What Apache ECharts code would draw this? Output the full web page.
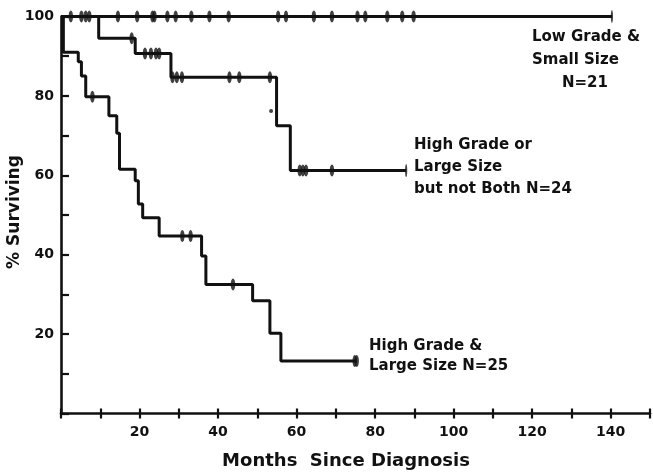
<!DOCTYPE html>
<html><head><meta charset="utf-8">
<script src="https://cdn.jsdelivr.net/npm/echarts@6/dist/echarts.min.js"></script>
<style>html,body{margin:0;padding:0;background:#fff}#c{width:653px;height:472px}</style>
</head><body><div id="c"></div>
<script>
// ---- data ----
const xTickLabels = [20, 40, 60, 80, 100, 120, 140];
const yTickLabels = [20, 40, 60, 80, 100];

// Low Grade & Small Size (N=21): [month, % surviving]
const lowSteps = [[0, 100], [140.3, 100]];
const lowCensored = [2.5, 5.2, 6.3, 7.2, 14.5, 19.4, 23.3, 23.8, 27.1, 29.2, 33.2, 37.8, 42.7, 55.3, 57.3, 64.4, 69, 75.5, 77.5, 83.1, 86.9, 89.8];
const lowEnd = [140.3];

// High Grade or Large Size but not Both (N=24)
const midSteps = [[0, 100], [9.6, 94.5], [18.9, 90.7], [28, 84.7], [54.9, 72.5], [58.4, 61.2], [87.9, 61.2]];
const midCensored = [18.0, 21.4, 22.9, 24.2, 25.0, 28.4, 29.5, 30.8, 42.9, 45.4, 53.2, 60.8, 61.6, 62.4, 69];
const midEnd = [87.9];

// High Grade & Large Size (N=25)
const highSteps = [[0, 100], [0.6, 91], [4.4, 88.6], [5.2, 85], [6.3, 79.8], [12.2, 75], [14.2, 70.6], [14.9, 61.5], [18.9, 58.6], [19.7, 52.8], [20.8, 49.3], [25, 44.7], [35.8, 39.7], [36.9, 32.5], [48.8, 28.4], [53.2, 20.2], [56, 13.2], [75.3, 13.2]];
const highCensored = [8.0, 30.9, 33.0, 43.8, 74.8];
const highEnd = [75.3];

// stray dot printed in the original figure
const strayDots = [[53.5, 76.2]];

// ---- helpers ----
function survAt(steps, t) {
  let s = steps[0][1];
  for (const p of steps) { if (p[0] <= t) s = p[1]; }
  return s;
}
function marks(steps, times) { return times.map(t => [t, survAt(steps, t)]); }

const INK = '#111';
const FONT = 'DejaVu Sans';

function curve(steps) {
  return { type: 'line', step: 'end', data: steps, symbol: 'none', xAxisIndex: 0, yAxisIndex: 0,
    lineStyle: { color: INK, width: 3 }, silent: true, z: 3 };
}
function cens(data, size) {
  return { type: 'scatter', data: data, symbol: 'circle', symbolSize: size || [4.5, 12], xAxisIndex: 0, yAxisIndex: 0,
    itemStyle: { color: INK }, silent: true, z: 4 };
}

const chart = echarts.init(document.getElementById('c'), null, { renderer: 'canvas' });
chart.setOption({
  backgroundColor: '#fff',
  animation: false,
  grid: { left: 61, right: -2, top: 16.5, bottom: 58.5, containLabel: false },
  xAxis: [
    { type: 'value', min: 0, max: 150, interval: 10,
      axisLine: { show: true, lineStyle: { color: INK, width: 2.6 } },
      axisTick: { show: true, inside: false, length: 5, lineStyle: { color: INK, width: 2.2 } },
      axisLabel: { margin: 12, color: INK, fontFamily: FONT, fontWeight: 'bold', fontSize: 14,
        formatter: v => xTickLabels.includes(v) ? String(v) : '' },
      splitLine: { show: false } },
    { type: 'value', min: 0, max: 150, interval: 10, position: 'bottom',
      axisLine: { show: false },
      axisTick: { show: true, inside: true, length: 5, lineStyle: { color: INK, width: 2.2 } },
      axisLabel: { show: false }, splitLine: { show: false } }
  ],
  yAxis: [
    { type: 'value', min: 0, max: 100, interval: 10,
      axisLine: { show: true, lineStyle: { color: INK, width: 2.6 } },
      axisTick: { show: true, inside: true, length: 8, lineStyle: { color: INK, width: 2.2 } },
      axisLabel: { margin: 7, color: INK, fontFamily: FONT, fontWeight: 'bold', fontSize: 14,
        formatter: v => yTickLabels.includes(v) ? String(v) : '' },
      splitLine: { show: false } }
  ],
  series: [
    curve(lowSteps), cens(marks(lowSteps, lowCensored)), cens(marks(lowSteps, lowEnd), [2.2, 13]),
    curve(midSteps), cens(marks(midSteps, midCensored)), cens(marks(midSteps, midEnd), [2.2, 13]),
    curve(highSteps), cens(marks(highSteps, highCensored)), cens(marks(highSteps, highEnd), [4.5, 12]),
    { type: 'scatter', data: strayDots, symbol: 'circle', symbolSize: 4, itemStyle: { color: INK }, silent: true }
  ],
  graphic: [
    { type: 'text', left: 532, top: 30, style: { text: 'Low Grade &', font: 'bold 15px "DejaVu Sans"', fill: INK } },
    { type: 'text', left: 532, top: 53, style: { text: 'Small Size', font: 'bold 15px "DejaVu Sans"', fill: INK } },
    { type: 'text', left: 562, top: 76, style: { text: 'N=21', font: 'bold 15px "DejaVu Sans"', fill: INK } },
    { type: 'text', left: 414, top: 138, style: { text: 'High Grade or', font: 'bold 15px "DejaVu Sans"', fill: INK } },
    { type: 'text', left: 414, top: 160, style: { text: 'Large Size', font: 'bold 15px "DejaVu Sans"', fill: INK } },
    { type: 'text', left: 414, top: 182, style: { text: 'but not Both N=24', font: 'bold 15px "DejaVu Sans"', fill: INK } },
    { type: 'text', left: 369, top: 339, style: { text: 'High Grade &', font: 'bold 15px "DejaVu Sans"', fill: INK } },
    { type: 'text', left: 369, top: 359, style: { text: 'Large Size N=25', font: 'bold 15px "DejaVu Sans"', fill: INK } },
    { type: 'text', x: 15, y: 212, rotation: Math.PI / 2,
      style: { text: '% Surviving', font: 'bold 17px "DejaVu Sans"', fill: INK, align: 'center', verticalAlign: 'middle' } },
    { type: 'text', x: 346, y: 461,
      style: { text: 'Months  Since Diagnosis', font: 'bold 18px "DejaVu Sans"', fill: INK, align: 'center', verticalAlign: 'middle' } }
  ]
});
</script>
</body></html>
